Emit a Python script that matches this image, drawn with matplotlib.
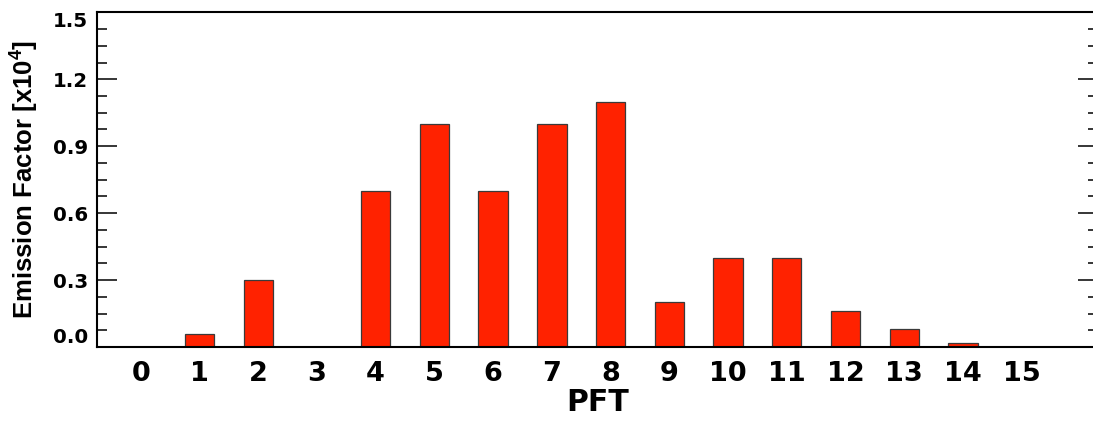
import matplotlib
matplotlib.use('Agg')
import matplotlib.pyplot as plt
from matplotlib.ticker import MultipleLocator

plt.rcParams['font.family'] = ['DejaVu Sans']
plt.rcParams['font.weight'] = 'bold'
plt.rcParams['mathtext.fontset'] = 'custom'
plt.rcParams['mathtext.rm'] = 'Liberation Sans:bold'
plt.rcParams['mathtext.it'] = 'Liberation Sans:bold'
plt.rcParams['mathtext.bf'] = 'Liberation Sans:bold'

# emission factor per plant functional type (x10^4)
pft = list(range(16))
emission = [0.0, 0.06, 0.30, 0.0, 0.70, 1.00, 0.70, 1.00,
            1.10, 0.20, 0.40, 0.40, 0.16, 0.08, 0.02, 0.0]
ytick_vals = [0.0, 0.3, 0.6, 0.9, 1.2, 1.5]

fig = plt.figure(figsize=(10.93, 4.21), dpi=100)
ax = fig.add_axes([96.7 / 1093, 74 / 421, (1098 - 96.7) / 1093, (347 - 12.3) / 421])

ax.bar(pft, emission, width=0.5, color='#ff2200', edgecolor='#3a3a3a', linewidth=0.9, zorder=2)

ax.set_xlim(-0.75, 16.3)
ax.set_ylim(0, 1.5)
ax.set_xticks(pft)
ax.set_xticklabels([str(p) for p in pft], fontsize=19.5, fontweight='bold')
ax.set_yticks(ytick_vals)
ax.set_yticklabels(['%.1f' % v for v in ytick_vals], fontsize=14.3, fontweight='bold')
ax.yaxis.set_minor_locator(MultipleLocator(0.075))

ax.tick_params(axis='x', length=0, pad=10)
ax.tick_params(axis='y', which='major', direction='in', length=14.4, width=1.1,
               right=True, pad=6)
ax.tick_params(axis='y', which='minor', direction='in', length=7.2, width=1.1, right=True)
for s in ax.spines.values():
    s.set_linewidth(1.5)

labs = ax.get_yticklabels()
labs[0].set_verticalalignment('bottom')
labs[-1].set_verticalalignment('top')

ax.set_xlabel('PFT', fontsize=21.5, fontweight='bold', labelpad=1)
ax.set_ylabel(r'Emission Factor [x10$^{4}$]', fontsize=18.5, fontweight='bold',
              family='Liberation Sans', labelpad=8.5)

fig.savefig('out.png', dpi=100)
